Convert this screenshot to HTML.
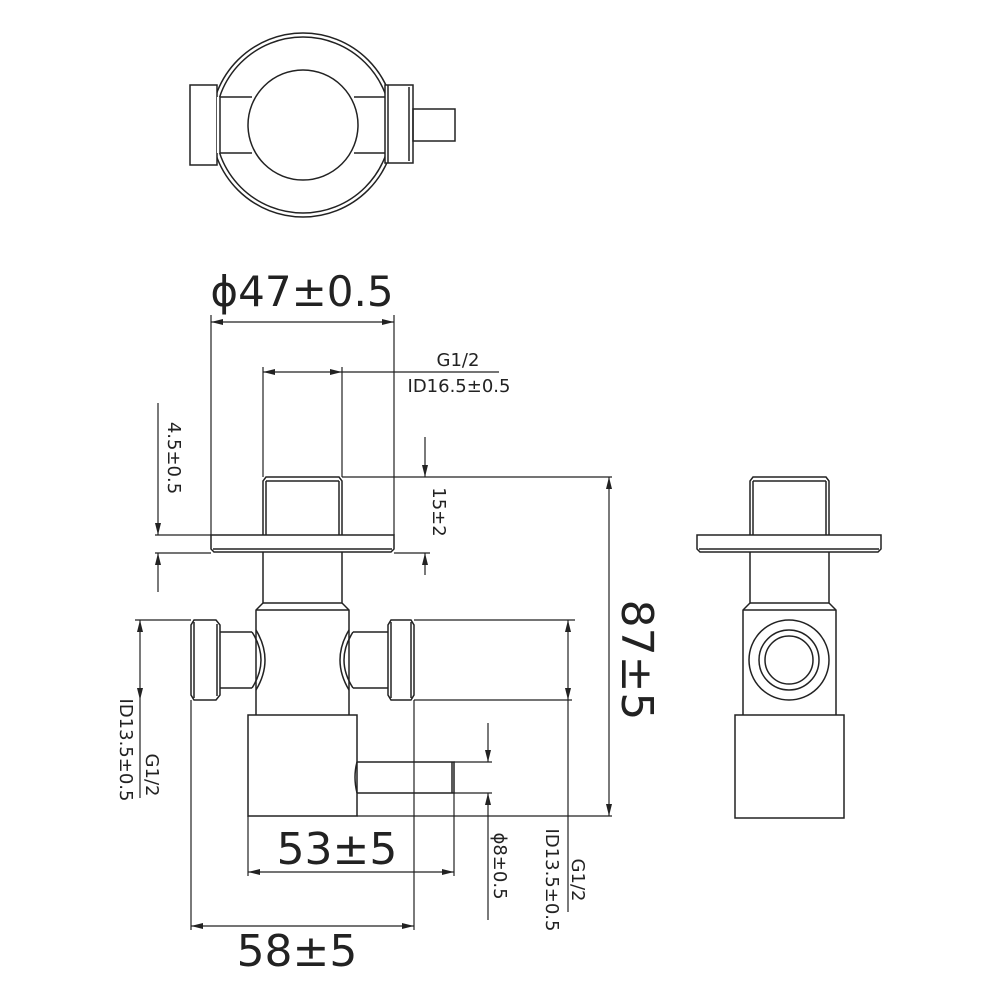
<!DOCTYPE html>
<html><head><meta charset="utf-8"><style>
html,body{margin:0;padding:0;background:#fff;}
svg{display:block}
text{font-family:"DejaVu Sans","Liberation Sans",sans-serif;fill:#222}
</style></head><body>
<svg width="1000" height="1000" viewBox="0 0 1000 1000" xmlns="http://www.w3.org/2000/svg">
<defs>
<marker id="a" viewBox="0 0 12 6" refX="12" refY="3" markerWidth="12" markerHeight="6" orient="auto" markerUnits="userSpaceOnUse"><path d="M0,0 L12,3 L0,6 z" fill="#222"/></marker>
</defs>
<g fill="none" stroke="#222" stroke-width="1.5">
<!-- Top view -->
<circle cx="303" cy="125" r="92"/>
<circle cx="303" cy="125" r="88"/>
<rect x="190" y="85" width="27" height="80" fill="#fff"/>
<rect x="217" y="97" width="40" height="56" fill="#fff" stroke="none"/>
<rect x="350" y="97" width="36" height="56" fill="#fff" stroke="none"/>
<line x1="220" y1="97" x2="252" y2="97"/><line x1="220" y1="153" x2="252" y2="153"/>
<line x1="220" y1="97" x2="220" y2="153"/>
<line x1="354" y1="97" x2="385" y2="97"/><line x1="354" y1="153" x2="385" y2="153"/>
<circle cx="303" cy="125" r="55" fill="#fff"/>
<rect x="385" y="85" width="28" height="78" fill="#fff"/>
<line x1="388" y1="85" x2="388" y2="163"/><line x1="409" y1="87" x2="409" y2="161"/>
<rect x="413" y="109" width="42" height="32"/>

<!-- Front view -->
<path d="M263,535 L263,481 L266,477 L339,477 L342,481 L342,535"/>
<line x1="266" y1="481" x2="339" y2="481"/>
<line x1="266" y1="481" x2="266" y2="535"/><line x1="339" y1="481" x2="339" y2="535"/>
<path d="M211,535 L394,535 L394,549 L391,552 L214,552 L211,549 Z"/>
<line x1="213" y1="549" x2="392" y2="549"/>
<path d="M263,552 L263,603 L256,610 L256,715"/>
<path d="M342,552 L342,603 L349,610 L349,715"/>
<line x1="263" y1="603" x2="342" y2="603"/><line x1="256" y1="610" x2="349" y2="610"/>
<path d="M194,620 L216,620 L220,625 L220,695 L216,700 L194,700 L191,695 L191,625 Z"/>
<line x1="194" y1="622" x2="194" y2="698"/><line x1="217" y1="624" x2="217" y2="696"/>
<line x1="220" y1="632" x2="252" y2="632"/><line x1="220" y1="688" x2="252" y2="688"/>
<path d="M252,632 Q270,660 252,688"/><path d="M256,630 Q274,660 256,690"/>
<path d="M391,620 L411,620 L414,625 L414,695 L411,700 L391,700 L388,695 L388,625 Z"/>
<line x1="391" y1="622" x2="391" y2="698"/><line x1="411" y1="622" x2="411" y2="698"/>
<line x1="353" y1="632" x2="388" y2="632"/><line x1="353" y1="688" x2="388" y2="688"/>
<path d="M353,632 Q335,660 353,688"/><path d="M349,630 Q331,660 349,690"/>
<rect x="248" y="715" width="109" height="101"/>
<path d="M357,762 L454,762 L454,793 L357,793"/>
<path d="M357,762 Q353,777 357,793"/>
<line x1="452" y1="762" x2="452" y2="793"/>

<!-- Side view -->
<path d="M750,535 L750,481 L753,477 L826,477 L829,481 L829,535"/>
<line x1="753" y1="481" x2="826" y2="481"/>
<line x1="753" y1="481" x2="753" y2="535"/><line x1="826" y1="481" x2="826" y2="535"/>
<path d="M697,535 L881,535 L881,549 L878,552 L700,552 L697,549 Z"/>
<line x1="699" y1="549" x2="879" y2="549"/>
<path d="M750,552 L750,603 L743,610 L743,715"/><path d="M829,552 L829,603 L836,610 L836,715"/>
<line x1="750" y1="603" x2="829" y2="603"/><line x1="743" y1="610" x2="836" y2="610"/>
<circle cx="789" cy="660" r="40"/><circle cx="789" cy="660" r="30"/><circle cx="789" cy="660" r="24"/>
<rect x="735" y="715" width="109" height="103"/>
</g>

<g fill="none" stroke="#222" stroke-width="1.2">
<line x1="211" y1="315" x2="211" y2="535"/><line x1="394" y1="315" x2="394" y2="535"/>
<line x1="300" y1="322" x2="211" y2="322" marker-end="url(#a)"/><line x1="300" y1="322" x2="394" y2="322" marker-end="url(#a)"/>
<line x1="263" y1="367" x2="263" y2="477"/><line x1="342" y1="367" x2="342" y2="477"/>
<line x1="300" y1="372" x2="263" y2="372" marker-end="url(#a)"/><line x1="300" y1="372" x2="342" y2="372" marker-end="url(#a)"/>
<line x1="342" y1="372" x2="499" y2="372"/>
<line x1="155" y1="535" x2="211" y2="535"/><line x1="155" y1="553" x2="211" y2="553"/>
<line x1="158" y1="403" x2="158" y2="535" marker-end="url(#a)"/>
<line x1="158" y1="592" x2="158" y2="553" marker-end="url(#a)"/>
<line x1="342" y1="477" x2="612" y2="477"/>
<line x1="394" y1="553" x2="430" y2="553"/>
<line x1="425" y1="437" x2="425" y2="477" marker-end="url(#a)"/>
<line x1="425" y1="575" x2="425" y2="553" marker-end="url(#a)"/>
<line x1="357" y1="816" x2="612" y2="816"/>
<line x1="609" y1="646" x2="609" y2="477" marker-end="url(#a)"/>
<line x1="609" y1="646" x2="609" y2="816" marker-end="url(#a)"/>
<line x1="135" y1="620" x2="191" y2="620"/>
<line x1="140" y1="660" x2="140" y2="620" marker-end="url(#a)"/>
<line x1="140" y1="660" x2="140" y2="700" marker-end="url(#a)"/>
<line x1="140" y1="700" x2="140" y2="798"/>
<line x1="414" y1="620" x2="575" y2="620"/><line x1="414" y1="700" x2="572" y2="700"/>
<line x1="568" y1="660" x2="568" y2="620" marker-end="url(#a)"/>
<line x1="568" y1="660" x2="568" y2="700" marker-end="url(#a)"/>
<line x1="568" y1="700" x2="568" y2="912"/>
<line x1="454" y1="762" x2="492" y2="762"/><line x1="454" y1="793" x2="492" y2="793"/>
<line x1="488" y1="723" x2="488" y2="762" marker-end="url(#a)"/>
<line x1="488" y1="920" x2="488" y2="793" marker-end="url(#a)"/>
<line x1="248" y1="816" x2="248" y2="876"/><line x1="454" y1="793" x2="454" y2="876"/>
<line x1="350" y1="872" x2="248" y2="872" marker-end="url(#a)"/><line x1="350" y1="872" x2="454" y2="872" marker-end="url(#a)"/>
<line x1="191" y1="700" x2="191" y2="930"/><line x1="414" y1="700" x2="414" y2="930"/>
<line x1="300" y1="926" x2="191" y2="926" marker-end="url(#a)"/><line x1="300" y1="926" x2="414" y2="926" marker-end="url(#a)"/>
</g>

<text x="302" y="306" font-size="42" text-anchor="middle">ϕ47±0.5</text>
<text x="458" y="366" font-size="18" text-anchor="middle">G1/2</text>
<text x="459" y="392" font-size="18" text-anchor="middle">ID16.5±0.5</text>
<text transform="translate(168,458) rotate(90)" font-size="18" text-anchor="middle">4.5±0.5</text>
<text transform="translate(433,512) rotate(90)" font-size="18" text-anchor="middle">15±2</text>
<text transform="translate(622,660) rotate(90)" font-size="44" text-anchor="middle">87±5</text>
<text transform="translate(146,775) rotate(90)" font-size="18" text-anchor="middle">G1/2</text>
<text transform="translate(120,750) rotate(90)" font-size="18" text-anchor="middle">ID13.5±0.5</text>
<text transform="translate(572,880) rotate(90)" font-size="18" text-anchor="middle">G1/2</text>
<text transform="translate(546,880) rotate(90)" font-size="18" text-anchor="middle">ID13.5±0.5</text>
<text transform="translate(494,866) rotate(90)" font-size="18" text-anchor="middle">ϕ8±0.5</text>
<text x="337" y="864" font-size="44" text-anchor="middle">53±5</text>
<text x="297" y="966" font-size="44" text-anchor="middle">58±5</text>
</svg>
</body></html>
